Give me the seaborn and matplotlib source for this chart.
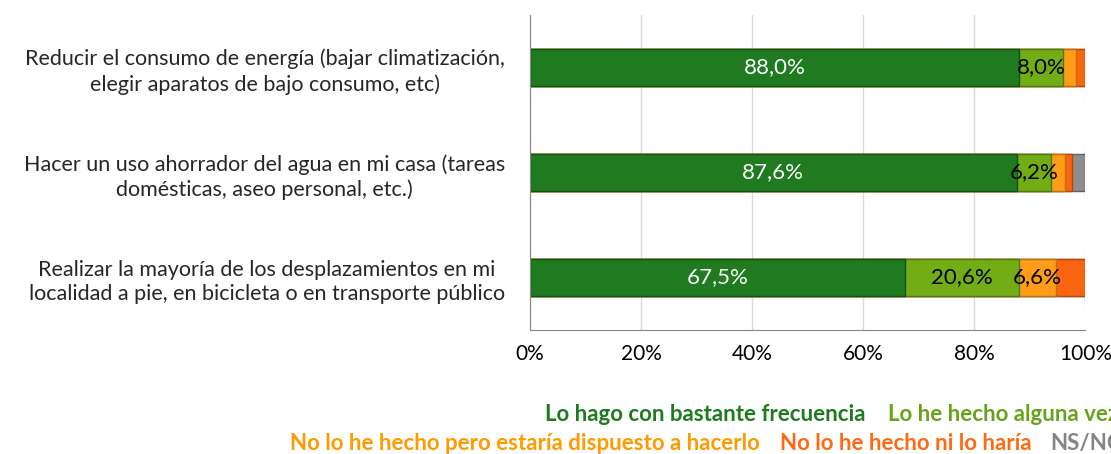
import pandas as pd
import numpy as np
import matplotlib.pyplot as plt
import seaborn as sns
from matplotlib.ticker import PercentFormatter, FixedLocator

# --- DATA ---
categories = [
    'Reducir el consumo de energía (bajar climatización,\nelegir aparatos de bajo consumo, etc)',
    'Hacer un uso ahorrador del agua en mi casa (tareas\ndomésticas, aseo personal, etc.)',
    'Realizar la mayoría de los desplazamientos en mi\nlocalidad a pie, en bicicleta o en transporte público',
]
series_names = [
    'Lo hago con bastante frecuencia',
    'Lo he hecho alguna vez',
    'No lo he hecho pero estaría dispuesto a hacerlo',
    'No lo he hecho ni lo haría',
    'NS/NC',
]
frecuencia = [88.0, 87.6, 67.5]
alguna_vez = [8.0, 6.2, 20.6]
dispuesto = [2.3, 2.5, 6.6]
ni_lo_haria = [1.7, 1.3, 5.3]
ns_nc = [0.0, 2.4, 0.0]

bar_colors = ['#207a20', '#72ad16', '#ff9c18', '#fb6410', '#8e8e8e']
edge_colors = ['#145214', '#4d7a0d', '#c07010', '#b84508', '#606060']
text_colors = ['#1e7a1e', '#66a31a', '#ff9a00', '#ff6a10', '#858585']

df = pd.DataFrame({
    'cat': categories,
    series_names[0]: frecuencia,
    series_names[1]: alguna_vez,
    series_names[2]: dispuesto,
    series_names[3]: ni_lo_haria,
    series_names[4]: ns_nc,
})

sns.set_style('white')
plt.rcParams['font.family'] = ['Lato', 'DejaVu Sans']

fig = plt.figure(figsize=(11.11, 4.54), dpi=100)
ax = fig.add_axes([0.477, 0.273, 0.5, 0.694])

# Stacked bars: draw cumulative totals from largest to smallest
cum = df[series_names].cumsum(axis=1)
for i in reversed(range(len(series_names))):
    sns.barplot(data=cum.assign(cat=df['cat']), x=series_names[i], y='cat',
                orient='h', color=bar_colors[i], edgecolor=edge_colors[i],
                linewidth=1, width=0.36, ax=ax, order=categories, saturation=1)

# Value labels
for r in range(len(categories)):
    left = 0
    for i, name in enumerate(series_names):
        v = df[name].iloc[r]
        if v >= 6:
            txt = f'{v:.1f}%'.replace('.', ',')
            ax.text(left + v / 2, r, txt, ha='center', va='center', fontsize=16,
                    color='white' if i == 0 else 'black')
        left += v

ax.set_xlim(0, 100)
ax.set_ylim(2.5, -0.5)
ax.xaxis.set_major_formatter(PercentFormatter(decimals=0))
ax.set_xticks([0, 20, 40, 60, 80, 100])
ax.grid(axis='x', color='#d9d9d9', linewidth=1)
ax.set_axisbelow(True)
ax.set_xlabel('')
ax.set_ylabel('')
ax.tick_params(axis='x', length=0, labelsize=15, pad=10, colors='black')
ax.tick_params(axis='y', which='major', length=0, labelsize=15.5, pad=18)
for lab in ax.get_yticklabels():
    lab.set_multialignment('center')
    lab.set_linespacing(1.3)
ax.yaxis.set_minor_locator(FixedLocator([-0.5, 0.5, 1.5, 2.5]))
ax.tick_params(axis='y', which='minor', length=6, color='#888888', direction='out')
for s in ['top', 'right']:
    ax.spines[s].set_visible(False)
for s in ['left', 'bottom']:
    ax.spines[s].set_color('#888888')

# Legend as coloured text (clipped at the right edge, as in the original)
legend_pos = [(0.4905, 0.086), (0.799, 0.086), (0.261, 0.024), (0.702, 0.024), (0.945, 0.024)]
for name, col, (x, y) in zip(series_names, text_colors, legend_pos):
    fig.text(x, y, name, color=col, fontsize=16, fontweight='bold', ha='left', va='center')

fig.savefig('out.png', dpi=100)
